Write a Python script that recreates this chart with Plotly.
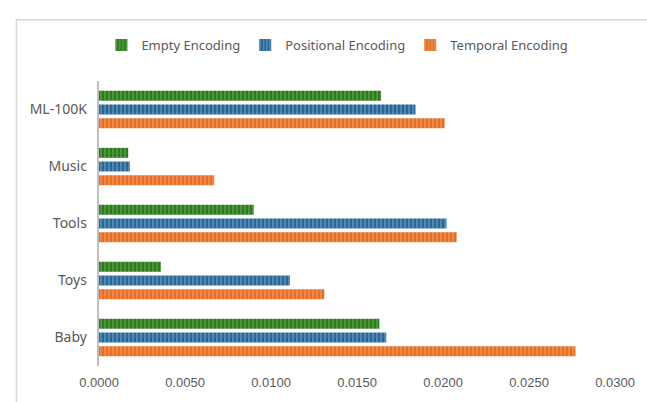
import plotly.graph_objects as go

# Datasets (bottom to top on the chart)
datasets = ["Baby", "Toys", "Tools", "Music", "ML-100K"]

# Metric values per encoding variant
empty_enc = [0.0163, 0.0036, 0.0090, 0.0017, 0.0164]
positional_enc = [0.0167, 0.0111, 0.0202, 0.0018, 0.0184]
temporal_enc = [0.0277, 0.0131, 0.0208, 0.0067, 0.0201]

x_ticks = [0.0, 0.005, 0.01, 0.015, 0.02, 0.025, 0.03]

series = [
    ("Temporal Encoding", temporal_enc, "#E56F26", "#F3A877"),
    ("Positional Encoding", positional_enc, "#2A6796", "#7FAED5"),
    ("Empty Encoding", empty_enc, "#2D7A1F", "#74B45E"),
]

fig = go.Figure()
for name, vals, dark, light in series:
    fig.add_trace(go.Bar(
        y=datasets, x=vals, name=name, orientation="h",
        marker=dict(
            color=dark,
            line=dict(width=0),
            pattern=dict(shape="|", fgcolor=light, bgcolor=dark,
                         size=4, solidity=0.45, fillmode="overlay"),
        ),
    ))

text_color = "#595959"
fig.update_layout(
    width=647, height=402,
    margin=dict(l=98.5, r=26.5, t=81, b=34.5),
    paper_bgcolor="white", plot_bgcolor="white",
    barmode="group", bargap=0.28, bargroupgap=0.27,
    font=dict(family="Noto Sans", size=13, color=text_color),
    showlegend=True,
    legend=dict(orientation="h", x=0.462, xanchor="center", y=1.126,
                yanchor="middle", traceorder="reversed",
                font=dict(size=13, color=text_color), itemwidth=30),
    xaxis=dict(range=[0, 0.03], tickvals=x_ticks, tickformat=".4f",
               showgrid=False, zeroline=False, showline=False,
               ticklabelstandoff=7,
               tickfont=dict(family="Liberation Sans", size=13, color=text_color)),
    yaxis=dict(categoryorder="array", categoryarray=datasets,
               showgrid=False, zeroline=False, showline=True,
               linecolor="#BFBFBF", linewidth=2, ticks="", ticklen=0,
               ticksuffix="  ",
               tickfont=dict(size=14, color=text_color)),
    shapes=[dict(type="rect", xref="paper", yref="paper",
                 x0=-0.16, x1=2, y0=-1, y1=1.2147,
                 line=dict(color="#D9D9D9", width=1.5), layer="below")],
)

fig.write_html("out.html")
